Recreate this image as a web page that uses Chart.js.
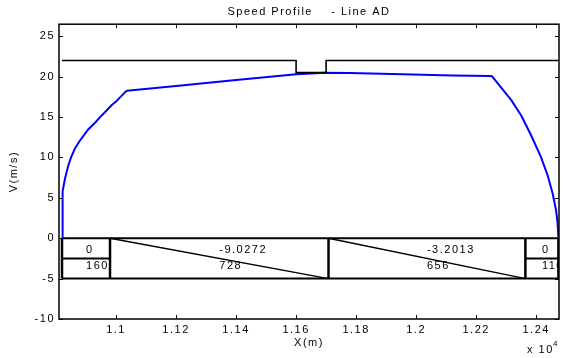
<!DOCTYPE html>
<html>
<head>
<meta charset="utf-8">
<script src="https://cdn.jsdelivr.net/npm/chart.js@4.4.1/dist/chart.umd.min.js"></script>
<style>
  html, body { margin: 0; padding: 0; background: #fff; }
</style>
</head>
<body>
<canvas id="speedChart" width="563" height="358"></canvas>
<script>
// speed profile along the line (X in m, V in m/s)
const speedX = [10820, 10821, 10823, 10830, 10841, 10850, 10863, 10880, 10908, 10930, 10947,
  10963, 10986, 11002, 11028, 11036, 11200, 11400, 11601, 11695, 11778, 11955, 12121,
  12245, 12253, 12278, 12317, 12350, 12383, 12416, 12438, 12455, 12466, 12471, 12474];
const speedV = [0, 4.5, 5.8, 7.4, 9.0, 10.0, 11.1, 12.1, 13.5, 14.3, 15.0,
  15.6, 16.5, 17.0, 18.0, 18.25, 18.85, 19.6, 20.3, 20.5, 20.45, 20.3, 20.15,
  20.1, 20.05, 18.9, 17.1, 15.2, 12.75, 10.05, 7.8, 5.5, 3.5, 2.0, 0];

// speed limit
const limitX = [10820, 11600, 11600, 11700, 11700, 12474];
const limitV = [22, 22, 20.5, 20.5, 22, 22];

// gradient table drawn under the curve
const gradEdges = [10820, 10980, 11708, 12364, 12474];
const gradValues = ['0', '-9.0272', '-3.2013', '0'];
const gradLengths = ['160', '728', '656', '110'];
const tableTop = 0;
const tableMid = -2.5;
const tableBottom = -5;

// axis ticks
const xTicks = [11000, 11200, 11400, 11600, 11800, 12000, 12200, 12400];
const yTicks = [-10, -5, 0, 5, 10, 15, 20, 25];

const FONT = "'Liberation Sans', Arial, Helvetica, sans-serif";
Chart.defaults.font.family = FONT;
Chart.defaults.font.size = 11;
Chart.defaults.color = '#000';

// build table lines from the arrays (null = pen up)
const frameLines = [];
const dividerLines = [];
const slopeLines = [];
const first = gradEdges[0], last = gradEdges[gradEdges.length - 1];
frameLines.push({x: first, y: tableTop}, {x: last, y: tableTop}, {x: last, y: null});
frameLines.push({x: first, y: tableBottom}, {x: last, y: tableBottom}, {x: last, y: null});
gradEdges.forEach(e => {
  dividerLines.push({x: e, y: tableTop}, {x: e, y: tableBottom}, {x: e, y: null});
});
gradValues.forEach((g, i) => {
  const a = gradEdges[i], b = gradEdges[i + 1];
  if (parseFloat(g) === 0) {
    frameLines.push({x: a, y: tableMid}, {x: b, y: tableMid}, {x: b, y: null});
  } else {
    slopeLines.push({x: a, y: tableTop}, {x: b, y: tableBottom}, {x: b, y: null});
  }
});

const matlabAxes = {
  id: 'matlabAxes',
  beforeUpdate(chart) { chart.ctx.letterSpacing = '1.5px'; },
  beforeDraw(chart) { chart.ctx.letterSpacing = '1.5px'; },
  afterDatasetsDraw(chart) {
    const {ctx, chartArea: a, scales: {x, y}} = chart;

    // table labels, left aligned at cell centre, clipped by the axes
    ctx.save();
    ctx.beginPath();
    ctx.rect(a.left, a.top, a.right - a.left, a.bottom - a.top);
    ctx.clip();
    ctx.font = '11px ' + FONT;
    ctx.fillStyle = '#000';
    ctx.textAlign = 'left';
    ctx.textBaseline = 'middle';
    for (let i = 0; i < gradValues.length; i++) {
      const cx = x.getPixelForValue((gradEdges[i] + gradEdges[i + 1]) / 2);
      ctx.fillText(gradValues[i], cx, y.getPixelForValue(-1.5));
      ctx.fillText(gradLengths[i], cx, y.getPixelForValue(-3.45));
    }
    ctx.restore();

    // box and inward ticks
    ctx.save();
    ctx.strokeStyle = '#000';
    ctx.lineWidth = 1;
    const tl = 4;
    ctx.beginPath();
    x.ticks.forEach(t => {
      const px = Math.round(x.getPixelForValue(t.value)) + 0.5;
      ctx.moveTo(px, a.bottom); ctx.lineTo(px, a.bottom - tl);
      ctx.moveTo(px, a.top); ctx.lineTo(px, a.top + tl);
    });
    y.ticks.forEach(t => {
      const py = Math.round(y.getPixelForValue(t.value)) + 0.5;
      ctx.moveTo(a.left, py); ctx.lineTo(a.left + tl, py);
      ctx.moveTo(a.right, py); ctx.lineTo(a.right - tl, py);
    });
    ctx.stroke();
    ctx.lineWidth = 1.5;
    ctx.strokeRect(a.left, a.top, a.right - a.left, a.bottom - a.top);

    // exponent label
    ctx.fillStyle = '#000';
    ctx.textAlign = 'left';
    ctx.textBaseline = 'alphabetic';
    ctx.font = '11px ' + FONT;
    ctx.fillText('x 10', a.right - 32, 353);
    ctx.font = '8px ' + FONT;
    ctx.letterSpacing = '0px';
    ctx.fillText('4', a.right - 6, 346);
    ctx.restore();
  }
};

new Chart(document.getElementById('speedChart'), {
  type: 'line',
  data: {
    datasets: [
      {
        label: 'Speed limit',
        data: limitX.map((v, i) => ({x: v, y: limitV[i]})),
        borderColor: '#000000',
        borderWidth: 1.6,
        pointRadius: 0,
        tension: 0
      },
      {
        label: 'Speed',
        data: speedX.map((v, i) => ({x: v, y: speedV[i]})),
        borderColor: '#0000ff',
        borderWidth: 2,
        pointRadius: 0,
        tension: 0,
        borderJoinStyle: 'round'
      },
      {
        label: 'table frame',
        data: frameLines,
        borderColor: '#000000',
        borderWidth: 2,
        pointRadius: 0,
        spanGaps: false
      },
      {
        label: 'table dividers',
        data: dividerLines,
        borderColor: '#000000',
        borderWidth: 2.5,
        pointRadius: 0,
        spanGaps: false
      },
      {
        label: 'table slopes',
        data: slopeLines,
        borderColor: '#000000',
        borderWidth: 1.5,
        pointRadius: 0,
        spanGaps: false
      }
    ]
  },
  options: {
    responsive: false,
    animation: false,
    layout: { padding: { left: 0, right: 4, top: 0, bottom: 0 } },
    plugins: {
      legend: { display: false },
      tooltip: { enabled: false },
      title: {
        display: true,
        fullSize: false,
        text: 'Speed Profile    - Line AD',
        color: '#000',
        font: { size: 11, weight: 'normal' },
        padding: { top: 5, bottom: 6 }
      }
    },
    scales: {
      x: {
        type: 'linear',
        min: 10810,
        max: 12476,
        afterBuildTicks: s => { s.ticks = xTicks.map(v => ({value: v})); },
        afterFit: s => { s.height = 39; },
        grid: { display: false, drawTicks: false },
        border: { display: false },
        ticks: {
          padding: 4,
          maxRotation: 0,
          callback: v => String(+(v / 1e4).toFixed(2))
        },
        title: { display: true, text: 'X(m)', padding: { top: 0, bottom: 8 } }
      },
      y: {
        type: 'linear',
        min: -10,
        max: 26.5,
        afterBuildTicks: s => { s.ticks = yTicks.map(v => ({value: v})); },
        afterFit: s => { s.width = 59; },
        grid: { display: false, drawTicks: false },
        border: { display: false },
        ticks: { padding: 4 },
        title: { display: true, text: 'V(m/s)', padding: { top: 7, bottom: 0 } }
      }
    }
  },
  plugins: [matlabAxes]
});
</script>
</body>
</html>
